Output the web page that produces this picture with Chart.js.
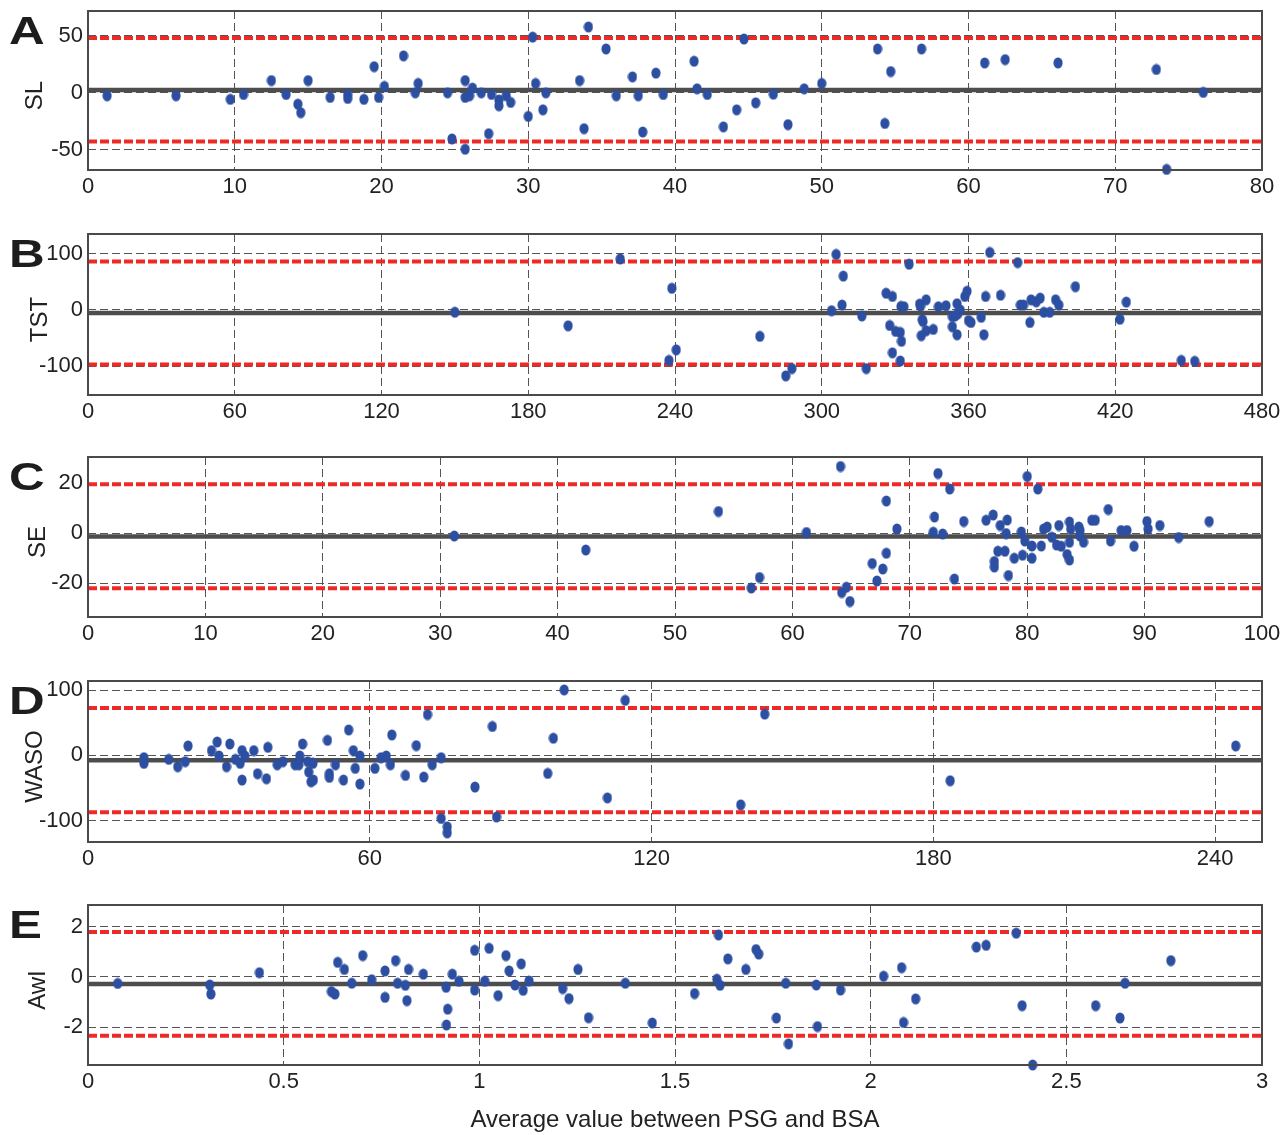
<!DOCTYPE html>
<html lang="en">
<head>
<meta charset="utf-8">
<title>Bland–Altman agreement, PSG vs BSA</title>
<script src="https://cdn.jsdelivr.net/npm/chart.js@4.4.1/dist/chart.umd.min.js"></script>
<style>
  html, body { margin: 0; padding: 0; background: #fff; }
  body { width: 1280px; height: 1135px; position: relative; overflow: hidden; }
  .panel { position: absolute; left: 0; width: 1280px; }
</style>
</head>
<body>
<div class="panel" id="wrap-sl"><canvas id="chart-sl"></canvas></div>
<div class="panel" id="wrap-tst"><canvas id="chart-tst"></canvas></div>
<div class="panel" id="wrap-se"><canvas id="chart-se"></canvas></div>
<div class="panel" id="wrap-waso"><canvas id="chart-waso"></canvas></div>
<div class="panel" id="wrap-awi"><canvas id="chart-awi"></canvas></div>
<script>
"use strict";

/* Bland–Altman plots: difference vs. average of PSG and BSA for five sleep
 * parameters. Each panel: scatter of subjects, mean bias (solid) and the
 * 95% limits of agreement (red dashed). */

// ---- SL (sleep latency) ----
const slX = [1.3, 6.0, 9.7, 10.6, 12.5, 13.5, 14.3, 14.5, 15.0, 16.5, 17.7, 17.7, 18.8, 19.5, 19.8,
  20.2, 21.5, 22.3, 22.5, 24.5, 24.8, 25.7, 25.7, 25.7, 26.0, 26.2, 26.8, 27.3, 27.5, 28.0,
  28.0, 28.5, 28.8, 30.0, 30.3, 30.5, 31.0, 31.2, 33.5, 33.8, 34.1, 35.3, 36.0, 37.1, 37.5,
  37.8, 38.7, 39.2, 41.3, 41.5, 42.2, 43.3, 44.2, 44.7, 45.5, 46.7, 47.7, 48.8, 50.0, 53.8,
  54.3, 54.7, 56.8, 61.1, 62.5, 66.1, 72.8, 73.5, 76.0];
const slY = [-2.6, -2.6, -5.8, -1.5, 10.8, -1.5, -10, -17.5, 10.8, -4.1, -1.5, -5, -5.8, 23, -4.1,
  5.6, 32.5, 0, 8.2, 0, -40.6, 10.8, -4.1, -49.7, -2.6, 4.1, 0, -36, -1.5, -6.4,
  -11.4, -2.6, -8.5, -20.8, 49, 8.2, -15, 0, 10.8, -31.6, 58, 38.6, -2.6, 14, -2.6,
  -34.5, 17.3, -1.5, 27.8, 3.5, -1.5, -30, -15, 47.4, -8.8, -1.2, -28, 3.5, 8.2, 38.6,
  -27, 18.7, 38.6, 26.3, 29.2, 26.3, 20.5, -67.5, 0.3];
const slLimits = [2.4, 48.2, -43];          // mean, upper, lower
const slXTicks = [0, 10, 20, 30, 40, 50, 60, 70, 80];
const slYTicks = [-50, 0, 50];

// ---- TST (total sleep time) ----
const tstX = [150, 196.3, 217.6, 238.7, 237.5, 240.5, 274.7, 285.3, 287.8, 304, 305.9, 308.3, 308.8,
  316.4, 318.2, 326.3, 327.8, 328.9, 328.9, 330.2, 332.1, 332.1, 332.6, 332.4, 333.6, 335.7,
  340, 340.4, 340.7, 341.1, 341.4, 342.7, 342.7, 345.6, 347.7, 350.8, 353.4, 353.4, 354.5,
  355.3, 355.3, 355.6, 356.6, 358.5, 359.4, 360, 361, 365.2, 366.3, 367, 368.7, 373.1, 380.1,
  381.2, 382.5, 385.1, 385.6, 387.7, 389.3, 390.8, 393.2, 395.6, 396.9, 403.7, 421.9, 424.5,
  447, 452.5];
const tstY = [-4, -28, 90.6, 38.6, -89.5, -70.8, -46.8, -117, -104, -1.2, 98.8, 8.8, 60.2,
  -10.5, -104, 29.8, -27.5, 24, -76, -38, -39.8, -90.6, -55.6, 6.4, 5.8, 81.3,
  10.5, 7, -45.6, -17, -20.5, 18.1, -36.8, -34.5, 5.8, 7.6, -11.7, -29.8, -10.5,
  11.1, -43.9, -7, 0, 24, 33.3, -18.7, -22.2, -12.9, -43.9, 24, 102.3, 26.3, 84.2,
  8.8, 8.8, -22.2, 18.1, 14.6, 21.1, -4.1, -4.1, 18.1, 8.8, 41.5, -16.4, 14,
  -89.5, -91.2];
const tstLimits = [-5.5, 86, -97];
const tstXTicks = [0, 60, 120, 180, 240, 300, 360, 420, 480];
const tstYTicks = [-100, 0, 100];

// ---- SE (sleep efficiency) ----
const seX = [31.2, 42.4, 53.7, 56.5, 57.2, 61.2, 64.1, 64.2, 64.6, 64.9, 66.8, 67.2, 67.7, 68.0, 68.0,
  68.9, 72.0, 72.1, 72.4, 72.8, 73.4, 73.8, 74.6, 76.5, 77.1, 77.2, 77.2, 77.5, 77.7, 78.1,
  78.2, 78.3, 78.4, 78.9, 79.5, 79.6, 79.8, 80.0, 80.4, 80.4, 80.9, 81.2, 81.4, 81.7, 82.1,
  82.5, 82.7, 82.9, 83.4, 83.6, 83.6, 83.6, 83.7, 84.4, 84.5, 84.5, 84.8, 85.5, 85.8, 86.9,
  87.1, 88.0, 88.5, 89.1, 90.2, 90.3, 91.3, 92.9, 95.5];
const seY = [-1.1, -6.7, 8.7, -21.9, -17.7, 0.3, 26.7, -23.7, -21.6, -27.3, -12.1, -19.1, -14.3, 12.9, -8,
  1.7, 0.4, 6.5, 23.9, -0.3, 17.7, -18.3, 4.7, 5.2, 7.3, -11.3, -13.5, -7.2, 3.1, -7.2,
  -0.1, 5.3, -16.9, -10, 0.5, -8.8, -3.1, 22.7, -10, -5.1, 17.7, -5.1, 1.7, 2.5, -1.6,
  -4.7, 3.1, -5.2, -8.5, 4.5, -3.6, -10.7, 1.7, 2.5, 1.1, -1.1, -3.6, 5.2, 5.2, 9.5,
  -3.1, 1.1, 1.1, -5.2, 4.7, 1.7, 3.1, -1.7, 4.7];
const seLimits = [-1.3, 19.6, -22];
const seXTicks = [0, 10, 20, 30, 40, 50, 60, 70, 80, 90, 100];
const seYTicks = [-20, 0, 20];

// ---- WASO (wake after sleep onset) ----
const wasoX = [11.9, 11.9, 17.2, 19.1, 20.7, 21.3, 26.3, 27.5, 27.9, 29.5, 30.2, 31.4, 32.4, 32.8, 32.8,
  33.4, 35.3, 36.1, 38.0, 38.3, 40.3, 41.5, 44.1, 44.9, 45.1, 45.7, 46.8, 47.0, 47.5, 47.9,
  48.0, 51.0, 51.4, 51.4, 52.7, 54.4, 55.5, 56.5, 56.9, 57.9, 57.9, 61.1, 62.4, 63.5, 64.4,
  64.7, 67.6, 69.9, 71.5, 72.3, 73.3, 75.2, 75.2, 76.5, 76.5, 82.4, 86.1, 87.0, 97.9, 99.1,
  101.4, 110.6, 114.4, 139.0, 144.1, 183.6, 244.4];
const wasoY = [-3.6, -12.3, -6.2, -17.4, -9.7, 14.4, 7.2, 20.5, -1, -17.4, 17.4, -6.2, -12.3, 7.2, -37.9,
  -1, 7.2, -28.2, -35.9, 12.3, -14.4, -9.7, -14.4, -14.4, -1, 17.4, -9.7, -25.6, -40.5, -12.3,
  -37.9, 23.1, -28.2, -33.8, -14.4, -37.9, 39, 7.2, -20, -1, -44.1, -20, -3.6, -1, -14.4,
  31.3, -30.8, 14.9, -33.3, 62.6, -14.4, -3.6, -96.9, -109.7, -119, -48.7, 44.2, -94.6, -27.8, 26.2,
  100.3, -65.3, 84.3, -76, 63.2, -39, 14.4];
const wasoLimits = [-7.5, 72.5, -87.5];
const wasoXTicks = [0, 60, 120, 180, 240];
const wasoYTicks = [-100, 0, 100];

// ---- AwI (awakening index) ----
const awiX = [0.076, 0.311, 0.314, 0.438, 0.622, 0.631, 0.638, 0.655, 0.674, 0.702, 0.725, 0.759, 0.759,
  0.786, 0.791, 0.811, 0.815, 0.819, 0.857, 0.915, 0.919, 0.916, 0.931, 0.948, 0.988, 0.988,
  1.014, 1.025, 1.048, 1.068, 1.076, 1.091, 1.107, 1.112, 1.127, 1.213, 1.229, 1.252, 1.279,
  1.373, 1.442, 1.55, 1.611, 1.607, 1.615, 1.635, 1.681, 1.707, 1.714, 1.759, 1.783, 1.79,
  1.861, 1.864, 1.923, 2.033, 2.079, 2.084, 2.115, 2.27, 2.295, 2.372, 2.387, 2.414, 2.575,
  2.637, 2.65, 2.767];
const awiY = [-0.26, -0.32, -0.68, 0.17, -0.58, -0.68, 0.58, 0.3, -0.25, 0.85, -0.11, 0.24, -0.81,
  0.65, -0.25, -0.33, -0.94, 0.3, 0.11, -0.41, -1.28, -1.91, 0.11, -0.17, 1.06, -0.52,
  -0.17, 1.14, -0.74, 0.85, 0.24, -0.32, 0.52, -0.53, -0.16, -0.46, -0.86, 0.3, -1.62,
  -0.25, -1.83, -0.66, 1.67, -0.09, -0.33, 0.72, 0.3, 1.09, 0.91, -1.63, -0.25, -2.66,
  -0.32, -1.97, -0.52, 0.03, 0.37, -1.81, -0.87, 1.19, 1.26, 1.74, -1.14, -3.5, -1.14,
  -1.63, -0.25, 0.65];
const awiLimits = [-0.28, 1.79, -2.34];
const awiXTicks = [0, 0.5, 1, 1.5, 2, 2.5, 3];
const awiYTicks = [-2, 0, 2];

const X_TITLE = "Average value between PSG and BSA";

const DOT_COLOR = "#2c4fa2";
const MEAN_COLOR = "#4d4d4d";
const LOA_COLOR = "#ee2a26";
const GRID_COLOR = "#555";
const FONT = '"Liberation Sans", Arial, Helvetica, sans-serif';
const PLOT_LEFT = 88;
const PLOT_RIGHT = 1262;
const PAD_TOP = 6;

Chart.defaults.font.family = FONT;
Chart.defaults.font.size = 22;
Chart.defaults.color = "#222";

// Slightly tall dot, as in the printed figure.
function makeDot() {
  const c = document.createElement("canvas");
  c.width = 10;
  c.height = 12;
  const g = c.getContext("2d");
  g.fillStyle = DOT_COLOR;
  g.beginPath();
  g.ellipse(5, 6, 4.6, 5.6, 0, 0, Math.PI * 2);
  g.fill();
  return c;
}
const DOT = makeDot();

/* Box frame, panel letter and rotated y-axis title. */
const frame = {
  id: "frame",
  afterDraw(chart, args, opts) {
    const { ctx, chartArea: a } = chart;
    ctx.save();
    ctx.strokeStyle = "#4a4a4a";
    ctx.lineWidth = 2;
    ctx.strokeRect(a.left, a.top, a.right - a.left, a.bottom - a.top);

    ctx.fillStyle = "#1d1d1d";
    ctx.font = `bold 38px ${FONT}`;
    ctx.textAlign = "left";
    ctx.textBaseline = "alphabetic";
    ctx.save();
    ctx.translate(9, a.top + 33);
    ctx.scale(1.3, 1);
    ctx.fillText(opts.letter, 0, 0);
    ctx.restore();

    ctx.font = `24px ${FONT}`;
    ctx.fillStyle = "#222";
    ctx.textAlign = "center";
    ctx.textBaseline = "middle";
    ctx.translate(opts.titleX, (a.top + a.bottom) / 2 + 5);
    ctx.rotate(-Math.PI / 2);
    ctx.fillText(opts.title, 0, 0);
    ctx.restore();
  },
};

const panels = [
  { id: "sl", letter: "A", title: "SL", titleX: 35, x: slX, y: slY, limits: slLimits,
    xRange: [0, 80], yRange: [-68, 72], xTicks: slXTicks, yTicks: slYTicks,
    plotTop: 11, plotBottom: 170, axisHeight: 36 },
  { id: "tst", letter: "B", title: "TST", titleX: 40, x: tstX, y: tstY, limits: tstLimits,
    xRange: [0, 480], yRange: [-151, 135], xTicks: tstXTicks, yTicks: tstYTicks,
    plotTop: 234, plotBottom: 395, axisHeight: 36 },
  { id: "se", letter: "C", title: "SE", titleX: 38, x: seX, y: seY, limits: seLimits,
    xRange: [0, 100], yRange: [-33.5, 30.5], xTicks: seXTicks, yTicks: seYTicks,
    plotTop: 457, plotBottom: 617, axisHeight: 36 },
  { id: "waso", letter: "D", title: "WASO", titleX: 35, x: wasoX, y: wasoY, limits: wasoLimits,
    xRange: [0, 250], yRange: [-133, 114], xTicks: wasoXTicks, yTicks: wasoYTicks,
    plotTop: 681, plotBottom: 842, axisHeight: 36 },
  { id: "awi", letter: "E", title: "AwI", titleX: 38, x: awiX, y: awiY, limits: awiLimits,
    xRange: [0, 3], yRange: [-3.5, 2.86], xTicks: awiXTicks, yTicks: awiYTicks,
    plotTop: 905, plotBottom: 1065, axisHeight: 70, xTitle: X_TITLE },
];

function renderPanel(p) {
  const wrap = document.getElementById(`wrap-${p.id}`);
  wrap.style.top = `${p.plotTop - PAD_TOP}px`;
  wrap.style.height = `${p.plotBottom - p.plotTop + PAD_TOP + p.axisHeight}px`;

  const [xMin, xMax] = p.xRange;
  const hline = (v, color, width, dash) => ({
    data: [{ x: xMin, y: v }, { x: xMax, y: v }],
    showLine: true,
    borderColor: color,
    borderWidth: width,
    borderDash: dash,
    borderCapStyle: "butt",
    pointRadius: 0,
  });

  new Chart(document.getElementById(`chart-${p.id}`), {
    type: "scatter",
    data: {
      datasets: [
        {
          data: p.x.map((x, i) => ({ x, y: p.y[i] })),
          pointStyle: DOT,
          pointRadius: 5,
          clip: false,
        },
        hline(p.limits[0], MEAN_COLOR, 4.5, []),
        hline(p.limits[1], LOA_COLOR, 4, [9, 3]),
        hline(p.limits[2], LOA_COLOR, 4, [9, 3]),
      ],
    },
    options: {
      animation: false,
      responsive: true,
      maintainAspectRatio: false,
      events: [],
      layout: { padding: { top: PAD_TOP, right: 1280 - PLOT_RIGHT, left: 0, bottom: 0 } },
      plugins: {
        legend: { display: false },
        tooltip: { enabled: false },
        frame: { letter: p.letter, title: p.title, titleX: p.titleX },
      },
      scales: {
        x: {
          type: "linear",
          min: xMin,
          max: xMax,
          afterBuildTicks: (s) => { s.ticks = p.xTicks.map((value) => ({ value })); },
          afterFit: (s) => { s.height = p.axisHeight; s.paddingLeft = 0; s.paddingRight = 0; },
          ticks: { padding: 4, maxRotation: 0, autoSkip: false, callback: (v) => String(v) },
          grid: { color: GRID_COLOR, lineWidth: 1, drawTicks: false, borderDash: [8, 4] },
          border: { display: false, dash: [8, 4] },
          title: p.xTitle
            ? { display: true, text: p.xTitle, font: { size: 24 }, color: "#222", padding: { top: 0, bottom: 0 } }
            : { display: false },
        },
        y: {
          type: "linear",
          min: p.yRange[0],
          max: p.yRange[1],
          afterBuildTicks: (s) => { s.ticks = p.yTicks.map((value) => ({ value })); },
          afterFit: (s) => { s.width = PLOT_LEFT; s.paddingTop = 0; s.paddingBottom = 0; },
          ticks: { padding: 5, autoSkip: false, callback: (v) => String(v) },
          grid: { color: GRID_COLOR, lineWidth: 1, drawTicks: false, borderDash: [8, 4] },
          border: { display: false, dash: [8, 4] },
        },
      },
    },
    plugins: [frame],
  });
}

panels.forEach(renderPanel);
</script>
</body>
</html>
